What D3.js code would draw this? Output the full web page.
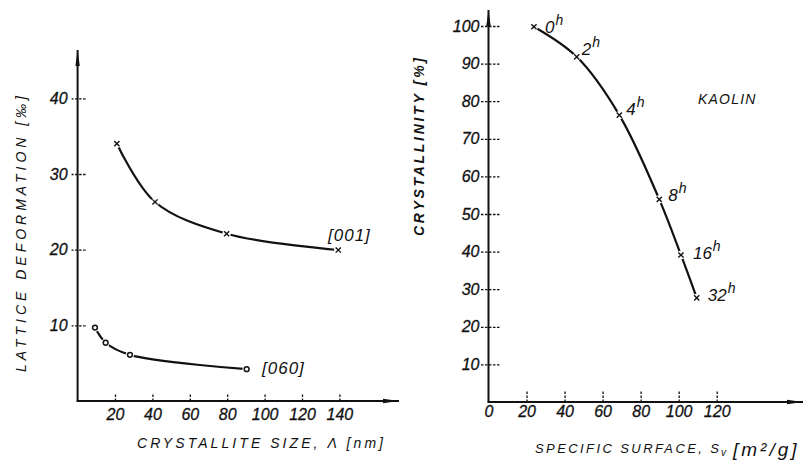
<!DOCTYPE html>
<html>
<head>
<meta charset="utf-8">
<script src="https://cdn.jsdelivr.net/npm/d3@7"></script>
<style>
  html, body { margin: 0; padding: 0; background: #fff; }
  svg { display: block; }
  text { font-family: "Liberation Sans", "DejaVu Sans", sans-serif; font-style: italic; fill: #111; }
</style>
</head>
<body>
<svg id="chart" width="810" height="461"></svg>
<script>
// ---- Left panel: lattice deformation vs crystallite size ----
const sizeTicks = [20, 40, 60, 80, 100, 120, 140];
const deformTicks = [10, 20, 30, 40];
const series001Size = [21, 41.4, 79.7, 139.4];
const series001Deform = [34.0, 26.3, 22.1, 19.95];
const series060Size = [9.3, 15, 28, 90.4];
const series060Deform = [9.7, 7.7, 6.1, 4.2];

// ---- Right panel: crystallinity vs specific surface ----
const surfaceTicks = [0, 20, 40, 60, 80, 100, 120];
const crystTicks = [10, 20, 30, 40, 50, 60, 70, 80, 90, 100];
const grindHours = ["0", "2", "4", "8", "16", "32"];
const kaolinSurface = [23.9, 46.4, 68.8, 89.8, 101.2, 109.5];
const kaolinCryst = [99.8, 91.8, 76.3, 53.9, 39.1, 27.7];

const svg = d3.select("#chart");
const ink = "#111";

const xL = d3.scaleLinear().domain([0, 140]).range([77.6, 339.4]);
const yL = d3.scaleLinear().domain([0, 40]).range([401, 98.3]);
const xR = d3.scaleLinear().domain([0, 120]).range([488.5, 716.7]);
const yR = d3.scaleLinear().domain([0, 100]).range([402, 26]);

// axis line with a slim arrow head at its far end
function arrowAxis(x1, y1, x2, y2) {
  svg.append("line").attr("x1", x1).attr("y1", y1).attr("x2", x2).attr("y2", y2)
    .attr("stroke", ink).attr("stroke-width", 2);
  const len = 16, half = 2.2;
  const dx = x2 - x1, dy = y2 - y1, d = Math.hypot(dx, dy);
  const ux = dx / d, uy = dy / d;
  const bx = x2 - ux * len, by = y2 - uy * len;
  svg.append("path")
    .attr("d", `M${x2},${y2}L${bx - uy * half},${by + ux * half}L${bx + uy * half},${by - ux * half}Z`)
    .attr("fill", ink);
}

function styleAxis(g, fontSize) {
  g.select(".domain").remove();
  g.selectAll(".tick line").attr("stroke", ink).attr("stroke-width", 1.3).attr("stroke-dasharray", "2.5,1.5");
  g.selectAll(".tick text").attr("font-size", fontSize).attr("fill", ink)
    .attr("stroke", ink).attr("stroke-width", 0.3)
    .attr("font-family", "'Liberation Sans', sans-serif").attr("font-style", "italic");
}

// Left axes
const gyL = svg.append("g").attr("transform", `translate(${xL(0)},0)`)
  .call(d3.axisLeft(yL).tickValues(deformTicks).tickSize(6).tickPadding(4));
gyL.selectAll(".tick line").attr("x1", 8).attr("x2", -6);
styleAxis(gyL, 16);

const gxL = svg.append("g").attr("transform", `translate(0,${yL(0)})`)
  .call(d3.axisBottom(xL).tickValues(sizeTicks).tickFormat(d3.format("d")).tickSize(0).tickPadding(9));
gxL.selectAll(".tick line").attr("y1", 0).attr("y2", -8);
styleAxis(gxL, 16);
gxL.selectAll(".tick text").attr("dy", "0.6em");

arrowAxis(xL(0), yL(0), xL(0), 50);
arrowAxis(xL(0) - 1, yL(0), 399, yL(0));

// Right axes
const gyR = svg.append("g").attr("transform", `translate(${xR(0)},0)`)
  .call(d3.axisLeft(yR).tickValues(crystTicks).tickSize(8).tickPadding(1));
gyR.selectAll(".tick line").attr("x1", 11).attr("x2", -8);
styleAxis(gyR, 16);

const gxR = svg.append("g").attr("transform", `translate(0,${yR(0)})`)
  .call(d3.axisBottom(xR).tickValues(surfaceTicks).tickFormat(d3.format("d")).tickSize(0).tickPadding(5));
gxR.selectAll(".tick line").attr("y1", 0).attr("y2", -11);
gxR.selectAll(".tick").filter(d => d === 0).select("line").remove();
styleAxis(gxR, 16);
gxR.selectAll(".tick text").attr("dy", "0.6em");

arrowAxis(xR(0), yR(0), xR(0), 10);
arrowAxis(xR(0) - 1, yR(0), 803, yR(0));

// Curves
const curve = d3.line().curve(d3.curveCatmullRom.alpha(0.5));

function drawSeries(xs, ys, sx, sy, marker) {
  const pts = xs.map((v, i) => [sx(v), sy(ys[i])]);
  svg.append("path").attr("d", curve(pts)).attr("fill", "none")
    .attr("stroke", ink).attr("stroke-width", 2.2);
  // small clear gap where the line meets each marker
  svg.append("g").selectAll("circle").data(pts).join("circle")
    .attr("cx", d => d[0]).attr("cy", d => d[1]).attr("r", 4.2).attr("fill", "#fff");
  if (marker === "cross") {
    svg.append("g").selectAll("path").data(pts).join("path")
      .attr("d", d => `M${d[0] - 2.6},${d[1] - 2.6}L${d[0] + 2.6},${d[1] + 2.6}M${d[0] - 2.6},${d[1] + 2.6}L${d[0] + 2.6},${d[1] - 2.6}`)
      .attr("stroke", ink).attr("stroke-width", 1.4);
  } else {
    svg.append("g").selectAll("circle").data(pts).join("circle")
      .attr("cx", d => d[0]).attr("cy", d => d[1]).attr("r", 2.4)
      .attr("fill", "#fff").attr("stroke", ink).attr("stroke-width", 1.5);
  }
  return pts;
}

drawSeries(series001Size, series001Deform, xL, yL, "cross");
drawSeries(series060Size, series060Deform, xL, yL, "circle");
const kaolinPts = drawSeries(kaolinSurface, kaolinCryst, xR, yR, "cross");

// Series labels
svg.append("text").attr("x", 328).attr("y", 241).attr("font-size", 17).attr("letter-spacing", 1).text("[001]");
svg.append("text").attr("x", 262).attr("y", 374).attr("font-size", 17).attr("letter-spacing", 1).text("[060]");

// Grinding time labels along the kaolin curve
const hourOffsets = [[11, 0], [5, -8], [7, -6], [9, -4], [12, -2], [11, -3]];
svg.append("g").selectAll("text").data(grindHours).join("text")
  .attr("x", (d, i) => kaolinPts[i][0] + hourOffsets[i][0])
  .attr("y", (d, i) => kaolinPts[i][1] + hourOffsets[i][1] + 6)
  .attr("font-size", 17)
  .each(function(d) {
    const t = d3.select(this);
    t.append("tspan").text(d);
    t.append("tspan").attr("dy", -8).attr("dx", 1).attr("font-size", 14).text("h");
  });

svg.append("text").attr("x", 698).attr("y", 104).attr("font-size", 14).attr("letter-spacing", 1.2).text("KAOLIN");

// Axis titles
svg.append("text").attr("x", 137).attr("y", 448).attr("font-size", 14)
  .attr("textLength", 246).attr("lengthAdjust", "spacing")
  .text("CRYSTALLITE SIZE, Λ [nm]");

svg.append("text").attr("transform", "translate(26,234) rotate(-90)")
  .attr("text-anchor", "middle").attr("font-size", 14)
  .attr("textLength", 276).attr("lengthAdjust", "spacing")
  .text("LATTICE  DEFORMATION  [‰]");

svg.append("text").attr("x", 535).attr("y", 453).attr("font-size", 13).attr("font-style", "normal")
  .attr("textLength", 184).attr("lengthAdjust", "spacing")
  .text("SPECIFIC SURFACE, S");
svg.append("text").attr("x", 721).attr("y", 456).attr("font-size", 10).text("v");
svg.append("text").attr("x", 733).attr("y", 456).attr("font-size", 19).attr("letter-spacing", 3)
  .text("[m²/g]");

svg.append("text").attr("transform", "translate(424,147) rotate(-90)")
  .attr("text-anchor", "middle").attr("font-size", 14).attr("font-style", "normal")
  .attr("font-weight", "bold")
  .attr("textLength", 178).attr("lengthAdjust", "spacing")
  .text("CRYSTALLINITY   [%]");
</script>
</body>
</html>
